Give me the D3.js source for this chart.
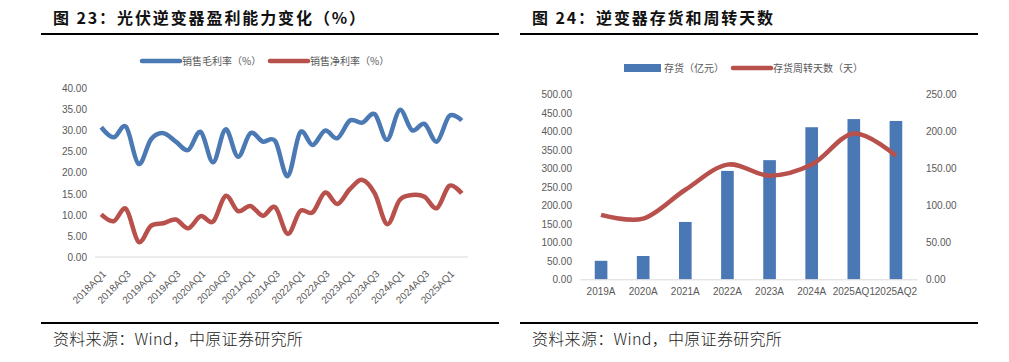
<!DOCTYPE html>
<html>
<head>
<meta charset="utf-8">
<script src="https://cdn.jsdelivr.net/npm/d3@7/dist/d3.min.js"></script>
<style>
  body { margin: 0; background: #fff; }
  svg text { font-family: "Liberation Sans", Arial, "Noto Sans CJK SC", sans-serif; fill: #595959; }
  .title { font-family: "Noto Sans CJK SC", sans-serif; font-weight: bold; font-size: 16px; fill: #111; letter-spacing: 1.9px; }
  .source { font-family: "Noto Sans CJK SC", sans-serif; font-weight: 300; font-size: 16px; fill: #222; letter-spacing: 0.3px; }
  .legend text { font-family: "Noto Sans CJK SC", sans-serif; font-size: 10px; }
  .tick text { font-size: 10px; }
</style>
</head>
<body>
<svg id="chart" width="1009" height="362"></svg>
<script>
(function () {
    // ---- data ----
    // chart 23: quarterly margins 2018Q1 .. 2025Q2
    var quarters = []
    for (var yr = 2018; yr <= 2025; yr++) {
        for (var q = 1; q <= 4; q++) {
            if (yr == 2025 && q > 2) break
            quarters.push(yr + "AQ" + q)
        }
    }
    var grossMargin = [30.8, 28.4, 30.9, 22.1, 27.9, 29.4, 27.4, 25.4, 29.7, 22.5,
                       30.3, 23.8, 29.4, 27.4, 27.5, 19.2, 29.6, 26.6, 30.0, 28.2,
                       32.4, 31.9, 33.9, 27.8, 34.9, 30.1, 31.6, 27.4, 33.5, 32.4]
    var netMargin = [10.1, 8.5, 11.4, 3.6, 7.4, 8.0, 8.9, 6.8, 9.7, 8.4,
                     14.5, 10.9, 12.1, 9.8, 11.8, 5.5, 10.9, 10.6, 15.3, 12.6,
                     16.1, 18.3, 15.1, 7.8, 13.5, 14.7, 14.3, 11.6, 16.9, 15.1]
    var marginTicks = [0, 5, 10, 15, 20, 25, 30, 35, 40]

    // chart 24: inventory (100m yuan) and turnover days
    var periods = ["2019A", "2020A", "2021A", "2022A", "2023A", "2024A", "2025AQ1", "2025AQ2"]
    var inventory = [50, 63, 155, 293, 322, 411, 433, 428]
    var turnoverDays = [87, 82, 121, 155, 140, 155, 197, 167]
    var invTicks = [0, 50, 100, 150, 200, 250, 300, 350, 400, 450, 500]
    var dayTicks = [0, 50, 100, 150, 200, 250]

    var blue = "#4a78b5", red = "#b8504c", lineBlue = "#4a79b3"
    var fmt = d3.format(".2f")

    var svg = d3.select("#chart")

    // titles, rules and source lines for both panels
    var panels = [
        { x0: 41, x1: 499, title: "图 23：光伏逆变器盈利能力变化（%）" },
        { x0: 520, x1: 978, title: "图 24：逆变器存货和周转天数" }
    ]
    panels.forEach(function (p) {
        svg.append("text").attr("class", "title")
            .attr("x", p.x0 + 12).attr("y", 24).text(p.title)
        svg.append("line").attr("x1", p.x0).attr("x2", p.x1)
            .attr("y1", 34).attr("y2", 34)
            .attr("stroke", "#000").attr("stroke-width", 2)
        svg.append("line").attr("x1", p.x0).attr("x2", p.x1)
            .attr("y1", 323).attr("y2", 323)
            .attr("stroke", "#000").attr("stroke-width", 2)
        svg.append("text").attr("class", "source")
            .attr("x", p.x0 + 12).attr("y", 345).text("资料来源：Wind，中原证券研究所")
    })

    // ================= chart 23 =================
    var x1 = d3.scaleBand().domain(quarters).range([95, 468])
    var y1 = d3.scaleLinear().domain([0, 40]).range([257, 88.5])
    var cx1 = function (d) { return x1(d) + x1.bandwidth() / 2 }

    // y axis, no line
    svg.append("g")
        .attr("transform", "translate(95,0)")
        .call(d3.axisLeft(y1).tickValues(marginTicks).tickSize(0).tickPadding(8).tickFormat(fmt))
        .call((g) => g.select(".domain").remove())

    // baseline
    svg.append("line").attr("x1", 95).attr("x2", 468)
        .attr("y1", y1(0)).attr("y2", y1(0))
        .attr("stroke", "#d9d9d9").attr("stroke-width", 1)

    // rotated labels on every other quarter
    svg.append("g").selectAll("text")
        .data(quarters.filter((d, i) => i % 2 == 0))
        .join("text")
        .attr("transform", (d) => "translate(" + (cx1(d) + 3) + "," + 272 + ") rotate(-45)")
        .attr("text-anchor", "end")
        .attr("dy", "0.35em")
        .style("font-size", "10px")
        .text((d) => d)

    var line1 = d3.line()
        .x((d, i) => cx1(quarters[i]))
        .y((d) => y1(d))
        .curve(d3.curveCatmullRom.alpha(0))

    svg.append("path").datum(grossMargin)
        .attr("d", line1).attr("fill", "none")
        .attr("stroke", lineBlue).attr("stroke-width", 4.5)
        .attr("stroke-linejoin", "round")
    svg.append("path").datum(netMargin)
        .attr("d", line1).attr("fill", "none")
        .attr("stroke", red).attr("stroke-width", 4.5)
        .attr("stroke-linejoin", "round")

    // legend
    var leg1 = svg.append("g").attr("class", "legend")
    leg1.append("line").attr("x1", 142).attr("x2", 180).attr("y1", 61).attr("y2", 61)
        .attr("stroke", lineBlue).attr("stroke-width", 4.5).attr("stroke-linecap", "round")
    leg1.append("text").attr("x", 182).attr("y", 61).attr("dy", "0.35em").text("销售毛利率（%）")
    leg1.append("line").attr("x1", 270).attr("x2", 308).attr("y1", 61).attr("y2", 61)
        .attr("stroke", red).attr("stroke-width", 4.5).attr("stroke-linecap", "round")
    leg1.append("text").attr("x", 310).attr("y", 61).attr("dy", "0.35em").text("销售净利率（%）")

    // ================= chart 24 =================
    var x2 = d3.scaleBand().domain(periods).range([580, 917])
    var yL = d3.scaleLinear().domain([0, 500]).range([279.3, 94.3])
    var yR = d3.scaleLinear().domain([0, 250]).range([279.3, 94.3])
    var barW = x2.bandwidth() * 0.3

    svg.append("g")
        .attr("transform", "translate(580,0)")
        .call(d3.axisLeft(yL).tickValues(invTicks).tickSize(0).tickPadding(8).tickFormat(fmt))
        .call((g) => g.select(".domain").remove())

    svg.append("g")
        .attr("transform", "translate(917,0)")
        .call(d3.axisRight(yR).tickValues(dayTicks).tickSize(0).tickPadding(9).tickFormat(fmt))
        .call((g) => g.select(".domain").remove())

    svg.append("g").selectAll("rect")
        .data(inventory)
        .join("rect")
        .attr("x", (d, i) => x2(periods[i]) + x2.bandwidth() / 2 - barW / 2)
        .attr("y", (d) => yL(d))
        .attr("width", barW)
        .attr("height", (d) => yL(0) - yL(d))
        .attr("fill", blue)

    svg.append("g")
        .attr("transform", "translate(0," + yL(0) + ")")
        .call(d3.axisBottom(x2).tickSize(0).tickPadding(9))
        .call((g) => g.select(".domain").attr("stroke", "#d9d9d9"))

    var line2 = d3.line()
        .x((d, i) => x2(periods[i]) + x2.bandwidth() / 2)
        .y((d) => yR(d))
        .curve(d3.curveCatmullRom.alpha(0))

    svg.append("path").datum(turnoverDays)
        .attr("d", line2).attr("fill", "none")
        .attr("stroke", red).attr("stroke-width", 4.5)

    var leg2 = svg.append("g").attr("class", "legend")
    leg2.append("rect").attr("x", 624).attr("y", 64).attr("width", 37).attr("height", 8)
        .attr("fill", blue)
    leg2.append("text").attr("x", 664).attr("y", 68).attr("dy", "0.35em").text("存货（亿元）")
    leg2.append("line").attr("x1", 733).attr("x2", 771).attr("y1", 68).attr("y2", 68)
        .attr("stroke", red).attr("stroke-width", 4.5).attr("stroke-linecap", "round")
    leg2.append("text").attr("x", 773).attr("y", 68).attr("dy", "0.35em").text("存货周转天数（天）")
})();
</script>
</body>
</html>
